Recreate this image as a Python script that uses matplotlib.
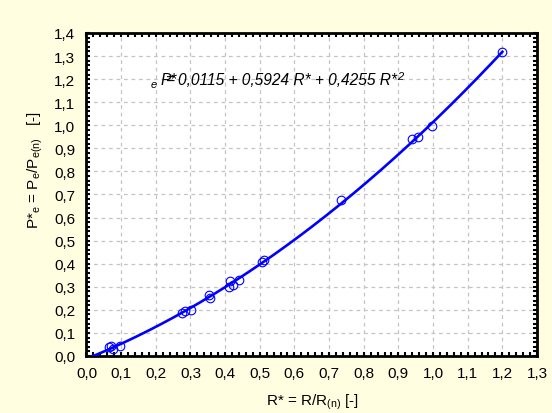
import numpy as np
import matplotlib
matplotlib.use("Agg")
import matplotlib.pyplot as plt
from matplotlib.ticker import MultipleLocator, FuncFormatter

plt.rcParams['font.family'] = ['Liberation Sans', 'DejaVu Sans']
plt.rcParams['mathtext.default'] = 'regular'

# Data (R* vs P*e)
r_star = [0.066, 0.071, 0.076, 0.098, 0.276, 0.283, 0.303, 0.354, 0.356,
          0.410, 0.415, 0.423, 0.440, 0.507, 0.512, 0.735, 0.938, 0.958,
          0.998, 1.200]
p_star = [0.040, 0.044, 0.032, 0.042, 0.187, 0.195, 0.200, 0.263, 0.250,
          0.300, 0.326, 0.307, 0.330, 0.408, 0.414, 0.674, 0.942, 0.950,
          0.995, 1.318]

eq_label = "0,0115 + 0,5924 R* + 0,4255 R*"

x_ticks = [round(0.1 * i, 1) for i in range(14)]
y_ticks = [round(0.1 * i, 1) for i in range(15)]

fig = plt.figure(figsize=(5.52, 4.14), dpi=100)
fig.patch.set_facecolor('#fffee0')
ax = fig.add_axes([0.1567, 0.1377, 0.9728 - 0.1567, 0.9179 - 0.1377])
ax.set_facecolor('white')

rx = np.array(r_star)
py = np.array(p_star)
coef = np.polyfit(rx, py, 2)
xx = np.linspace(0.0, rx.max(), 300)
ax.plot(xx, np.polyval(coef, xx), color='#0000ff', lw=1.9, zorder=3)
ax.plot(rx, py, linestyle='none', marker='o', markersize=6.2,
        markerfacecolor='none', markeredgecolor='#0000ff', markeredgewidth=0.8,
        zorder=4)

ax.set_xlim(0, 1.3)
ax.set_ylim(0, 1.4)
ax.set_xticks(x_ticks)
ax.set_yticks(y_ticks)
fmt = FuncFormatter(lambda v, p: f"{v:.1f}".replace('.', ','))
ax.xaxis.set_major_formatter(fmt)
ax.yaxis.set_major_formatter(fmt)
ax.xaxis.set_minor_locator(MultipleLocator(0.02))
ax.yaxis.set_minor_locator(MultipleLocator(0.02))
ax.tick_params(which='both', direction='in', top=True, right=True,
               length=3, width=1.5, color='black')
ax.tick_params(axis='x', which='major', labelsize=11, pad=7)
ax.tick_params(axis='y', which='major', labelsize=11, pad=8)
for s in ax.spines.values():
    s.set_linewidth(2.0)
    s.set_color('black')
ax.grid(True, which='major', color='#c4c4c4', linestyle=(0, (3, 3)), lw=0.9)
ax.set_axisbelow(True)

# Equation text (garbled as in reference)
def px(x, y):
    return (x / 552.0, (414.0 - y) / 414.0)

fig.text(*px(151, 88), 'e', fontsize=8, fontstyle='italic', ha='left', va='baseline')
fig.text(*px(161, 85), 'P*', fontsize=11.2, fontstyle='italic', ha='left', va='baseline')
fig.text(*px(165, 85), '=', fontsize=11.2, fontstyle='italic', ha='left', va='baseline')
t = fig.text(*px(178, 85), eq_label, fontsize=11.2, fontstyle='italic',
             ha='left', va='baseline')
fig.canvas.draw()
bb = t.get_window_extent()
x_end = bb.x1
fig.text(x_end / 552.0 + 0.001, (414.0 - 80) / 414.0, '2', fontsize=8,
         fontstyle='italic', ha='left', va='baseline')

fig.text(*px(312, 402), r'R* = R/R$_{(n)}$ [-]', fontsize=11,
         ha='center', va='center')
fig.text(*px(35, 170), r'P*$_{e}$ = P$_{e}$/P$_{e(n)}$   [-]', fontsize=11,
         ha='center', va='center', rotation=90)

fig.savefig('out.png', dpi=100, facecolor=fig.get_facecolor())
